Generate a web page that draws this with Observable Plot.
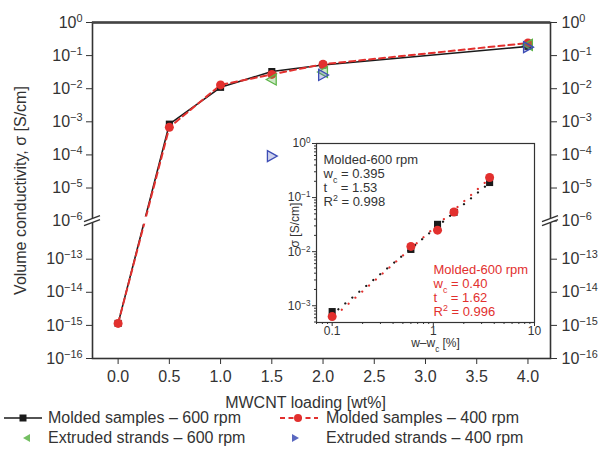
<!DOCTYPE html>
<html><head><meta charset="utf-8">
<script src="https://cdn.jsdelivr.net/npm/d3@7"></script>
<script src="https://cdn.jsdelivr.net/npm/@observablehq/plot@0.6"></script>
<style>
body{margin:0;background:#fff;font-family:"Liberation Sans",Arial,sans-serif;color:#333}
#wrap{position:relative;width:601px;height:459px;overflow:hidden}
#main{position:absolute;left:0;top:0}
#inset{position:absolute;left:280px;top:135px}
#legend{position:absolute;left:0;top:408px;width:601px;font-size:16px;color:#333}
.row{position:relative;height:20px}
.item{position:absolute;top:0;height:20px;display:flex;align-items:center;white-space:nowrap}
.item svg{position:absolute;left:0;top:0}
</style></head><body>
<div id="wrap"><div id="main"></div><div id="inset"></div><div id="legend"></div></div>
<script>
// ---------- main chart data ----------
const loading = [0.0, 0.5, 1.0, 1.5, 2.0, 4.0];
const molded600 = [1.15e-15, 8.5e-4, 1.1e-2, 3.3e-2, 5.2e-2, 0.19];
const molded400 = [1.15e-15, 6.8e-4, 1.3e-2, 2.7e-2, 5.5e-2, 0.24];
const extrudedLoading = [1.5, 2.0, 4.0];
const extruded600 = [1.9e-2, 3.2e-2, 0.21];
const extruded400 = [9.2e-5, 2.6e-2, 0.18];
const xTicks = [0.0, 0.5, 1.0, 1.5, 2.0, 2.5, 3.0, 3.5, 4.0];
const yTickExponents = [0, -1, -2, -3, -4, -5, -6, -13, -14, -15, -16];
const seriesNames = ["Molded samples \u2013 600 rpm", "Molded samples \u2013 400 rpm",
                     "Extruded strands \u2013 600 rpm", "Extruded strands \u2013 400 rpm"];

// ---------- inset data ----------
const insetW600 = [0.1, 0.6, 1.1, 1.6, 3.6];
const insetSigma600 = [7.8e-4, 1.1e-2, 3.2e-2, 5.3e-2, 0.19];
const insetW400 = [0.1, 0.6, 1.1, 1.6, 3.6];
const insetSigma400 = [6.3e-4, 1.25e-2, 2.5e-2, 5.4e-2, 0.235];
const fitW = [0.115, 3.5];
const fitSigma600 = [8.6e-4, 0.18];
const fitSigma400 = [7.4e-4, 0.215];
const insetXTicks = [0.1, 1, 10];
const insetXTickLabels = ["0.1", "1", "10"];
const insetYTicks = [1, 0.1, 0.01, 0.001];
const fitText600 = ["Molded-600 rpm", "w_{c} = 0.395", "t\u2002\u00a0\u00a0= 1.53", "R^{2} = 0.998"];
const fitText400 = ["Molded-600 rpm", "w_{c} = 0.40", "t\u2002\u00a0\u00a0= 1.62", "R^{2} = 0.996"];

const C = {black: "#1a1a1a", red: "#e2302e", green: "#5cb447", blue: "#3d4db5", text: "#333"};
const FONT = "'Liberation Sans', Arial, sans-serif";

// broken y axis: decades below 10^-6 are shifted up
const GAP = 1.15;
const dispExp = e => (e < -6.5 ? e + 7 - GAP : e);
const disp = s => dispExp(Math.log10(s));
const undisp = d => Math.round(d < -6.5 ? d - 7 + GAP : d);
const powLabel = e => "10^{" + (e === 0 ? "0" : "\u2212" + (-e)) + "}";

const mainRows = loading.map((x, i) => ({x, s600: molded600[i], s400: molded400[i]}));
const extRows = extrudedLoading.map((x, i) => ({x, e600: extruded600[i], e400: extruded400[i]}));

const triLeft = {draw(ctx, size) { const r = Math.sqrt(size / Math.PI); ctx.moveTo(-r, 0); ctx.lineTo(r * 0.8, -r); ctx.lineTo(r * 0.8, r); ctx.closePath(); }};
const triRight = {draw(ctx, size) { const r = Math.sqrt(size / Math.PI); ctx.moveTo(r, 0); ctx.lineTo(-r * 0.8, -r); ctx.lineTo(-r * 0.8, r); ctx.closePath(); }};

const yTickVals = yTickExponents.map(dispExp);
const xDomain = [-0.25, 4.22];

const main = Plot.plot({
  width: 601, height: 412,
  marginLeft: 92, marginRight: 51, marginTop: 22, marginBottom: 54,
  style: {fontFamily: FONT, fontSize: "16px", color: C.text, background: "transparent"},
  x: {domain: xDomain},
  y: {domain: [dispExp(-16), 0]},
  marks: [
    Plot.axisX({ticks: xTicks, tickFormat: d => d.toFixed(1), tickSize: 6, tickPadding: 6, label: null}),
    Plot.axisY({anchor: "left", ticks: yTickVals, tickFormat: d => powLabel(undisp(d)), tickSize: 6, tickPadding: 4, label: null}),
    Plot.axisY({anchor: "right", ticks: yTickVals, tickFormat: d => powLabel(undisp(d)), tickSize: 6, tickPadding: 5, label: null}),
    Plot.frame({stroke: "#333", strokeWidth: 1.6}),
    Plot.ruleY([0], {stroke: "#444", strokeWidth: 2.4}),
    Plot.line(mainRows, {x: "x", y: d => disp(d.s600), stroke: C.black, strokeWidth: 1.6}),
    Plot.line(mainRows, {x: "x", y: d => disp(d.s400), stroke: C.red, strokeWidth: 2, strokeDasharray: "6,4"}),
    Plot.dot(mainRows, {x: "x", y: d => disp(d.s600), symbol: "square", r: 4, fill: C.black}),
    Plot.dot(mainRows, {x: "x", y: d => disp(d.s400), symbol: "circle", r: 4.5, fill: C.red}),
    Plot.dot(extRows, {x: "x", y: d => disp(d.e600), symbol: triLeft, r: 5.5, stroke: C.green, strokeWidth: 1.3, fill: C.green, fillOpacity: 0.3}),
    Plot.dot(extRows, {x: "x", y: d => disp(d.e400), symbol: triRight, r: 5.5, stroke: C.blue, strokeWidth: 1.3, fill: C.blue, fillOpacity: 0.25}),
    Plot.text(["Volume conductivity, \u03c3 [S/cm]"], {frameAnchor: "left", textAnchor: "middle", lineAnchor: "middle", rotate: -90, dx: -72, fontSize: 16, fill: C.text}),
    Plot.text(["MWCNT loading [wt%]"], {frameAnchor: "bottom", textAnchor: "middle", lineAnchor: "middle", dy: 44, dx: -16, fontSize: 16, fill: C.text})
  ]
});

// ---------- inset ----------
const minorX = [], minorY = [];
for (const dec of [0.01, 0.1, 1]) for (let k = 2; k <= 9; k++) { const v = dec * k; if (v >= 0.07 && v <= 10) minorX.push(v); }
for (const dec of [1e-4, 1e-3, 1e-2, 1e-1]) for (let k = 2; k <= 9; k++) { const v = dec * k; if (v >= 4.9e-4 && v <= 1) minorY.push(v); }

const in600 = insetW600.map((w, i) => ({w, s: insetSigma600[i]}));
const in400 = insetW400.map((w, i) => ({w, s: insetSigma400[i]}));
const fit600 = fitW.map((w, i) => ({w, s: fitSigma600[i]}));
const fit400 = fitW.map((w, i) => ({w, s: fitSigma400[i]}));

const inset = Plot.plot({
  width: 265, height: 224,
  marginLeft: 36, marginRight: 11, marginTop: 8, marginBottom: 37,
  style: {fontFamily: FONT, fontSize: "12px", color: C.text, background: "transparent"},
  x: {type: "log", domain: [0.07, 10]},
  y: {type: "log", domain: [4.9e-4, 1]},
  marks: [
    Plot.frame({fill: "white", stroke: "#333", strokeWidth: 1.2}),
    Plot.axisX({ticks: minorX, tickSize: 2, tickFormat: () => "", label: null}),
    Plot.axisX({ticks: insetXTicks, tickSize: 4, tickPadding: 0, tickFormat: d => insetXTickLabels[insetXTicks.indexOf(d)], label: null}),
    Plot.axisY({ticks: minorY, tickSize: 2, tickFormat: () => "", label: null}),
    Plot.axisY({ticks: insetYTicks, tickSize: 4, tickPadding: 2, tickFormat: d => powLabel(Math.round(Math.log10(d))), label: null}),
    Plot.line(fit600, {x: "w", y: "s", stroke: C.black, strokeWidth: 2.2, strokeDasharray: "0.1,9", strokeLinecap: "round"}),
    Plot.line(fit400, {x: "w", y: "s", stroke: C.red, strokeWidth: 2.2, strokeDasharray: "0.1,9", strokeDashoffset: 4.5, strokeLinecap: "round"}),
    Plot.dot(in600, {x: "w", y: "s", symbol: "square", r: 4, fill: C.black}),
    Plot.dot(in400, {x: "w", y: "s", symbol: "circle", r: 4.5, fill: C.red}),
    ...fitText600.map((t, i) => Plot.text([t], {frameAnchor: "top-left", textAnchor: "start", lineAnchor: "middle", dx: 7, dy: 16 + i * 14, fontSize: 13, fill: C.text})),
    ...fitText400.map((t, i) => Plot.text([t], {frameAnchor: "top-left", textAnchor: "start", lineAnchor: "middle", dx: 117, dy: 126 + i * 14, fontSize: 13, fill: C.red})),
    Plot.text(["\u03c3 [S/cm]"], {frameAnchor: "left", textAnchor: "middle", lineAnchor: "middle", rotate: -90, dx: -21, dy: -8, fontSize: 12, fill: C.text}),
    Plot.text(["w\u2013w_{c} [%]"], {frameAnchor: "bottom", textAnchor: "middle", lineAnchor: "middle", dy: 21, dx: 10, fontSize: 12, fill: C.text})
  ]
});

// rich text: ^{..} superscript, _{..} subscript
function richify(root) {
  root.querySelectorAll("text, tspan").forEach(el => {
    if (el.children.length) return;
    const s = el.textContent;
    if (!/[\^_]\{/.test(s)) return;
    el.textContent = "";
    const re = /([\^_])\{([^}]*)\}/g;
    let last = 0, m;
    while ((m = re.exec(s))) {
      if (m.index > last) el.appendChild(document.createTextNode(s.slice(last, m.index)));
      const t = document.createElementNS("http://www.w3.org/2000/svg", "tspan");
      t.setAttribute("baseline-shift", m[1] === "^" ? "super" : "sub");
      t.setAttribute("font-size", "68%");
      t.textContent = m[2];
      el.appendChild(t);
      last = re.lastIndex;
    }
    if (last < s.length) el.appendChild(document.createTextNode(s.slice(last)));
  });
}

function scaleFn(chart, name) {
  const s = chart.scale(name);
  if (s.apply) return v => s.apply(v);
  return d3.scaleLinear(s.domain, s.range);
}

// axis break marks at 10^-6
function addBreaks(chart) {
  const sx = scaleFn(chart, "x"), sy = scaleFn(chart, "y");
  const yb = sy(dispExp(-6));
  const xl = sx(xDomain[0]), xr = sx(xDomain[1]);
  const g = d3.select(chart).append("g");
  g.append("rect").attr("x", xl + 2).attr("width", xr - xl - 4).attr("y", yb - 4).attr("height", 7).attr("fill", "white");
  for (const xa of [xl, xr]) {
    g.append("path").attr("d", `M${xa - 8},${yb + 1}L${xa + 8},${yb - 5}L${xa + 8},${yb - 1}L${xa - 8},${yb + 5}Z`).attr("fill", "white");
    for (const o of [-2, 2]) g.append("line").attr("x1", xa - 8).attr("y1", yb + o + 3).attr("x2", xa + 8).attr("y2", yb + o - 3).attr("stroke", "#333").attr("stroke-width", 1.5);
  }
}

richify(main); richify(inset);
addBreaks(main);
document.getElementById("main").appendChild(main);
document.getElementById("inset").appendChild(inset);

// ---------- legend ----------
const swatches = [
  `<line x1="4" x2="42" y1="10" y2="10" stroke="${C.black}" stroke-width="1.6"/><rect x="19.5" y="6.5" width="7" height="7" fill="${C.black}"/>`,
  `<line x1="2" x2="40" y1="10" y2="10" stroke="${C.red}" stroke-width="2" stroke-dasharray="5,3.5"/><circle cx="20" cy="10" r="4" fill="${C.red}"/>`,
  `<path d="M23,10 L30,6 L30,14Z" fill="${C.green}" opacity="0.85"/>`,
  `<path d="M21,10 L14,6 L14,14Z" fill="${C.blue}" opacity="0.85"/>`
];
const pos = [[0, 48], [278, 326], [0, 48], [278, 326]];
const legend = document.getElementById("legend");
for (let r = 0; r < 2; r++) {
  const row = document.createElement("div"); row.className = "row";
  for (let c = 0; c < 2; c++) {
    const i = r * 2 + c;
    const sw = document.createElement("div"); sw.className = "item"; sw.style.left = pos[i][0] + "px"; sw.style.width = "44px";
    sw.innerHTML = `<svg width="44" height="20">${swatches[i]}</svg>`;
    const tx = document.createElement("div"); tx.className = "item"; tx.style.left = pos[i][1] + "px"; tx.textContent = seriesNames[i];
    row.appendChild(sw); row.appendChild(tx);
  }
  legend.appendChild(row);
}
</script>
</body></html>
